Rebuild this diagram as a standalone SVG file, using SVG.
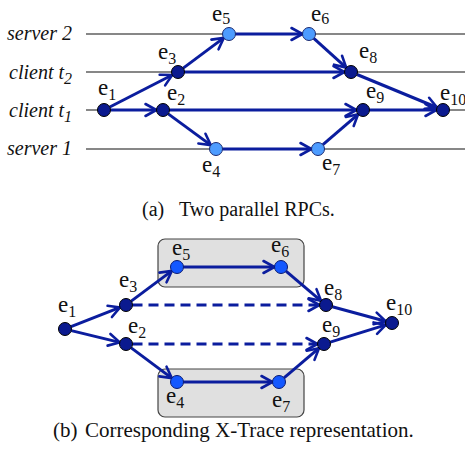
<svg xmlns="http://www.w3.org/2000/svg" width="465" height="455" viewBox="0 0 465 455">
  <style>
    .lane { stroke: #111; stroke-width: 1.1; fill: none; }
    text { font-family: 'Liberation Serif', 'Times New Roman', serif; fill: #111; }
    .lbl { font-size: 20px; font-style: italic; text-anchor: end; }
    .ev { font-size: 23px; }
    .sub { font-size: 16px; }
    .cap { font-size: 20px; }
    .capb { font-size: 21px; }
    .edge { stroke: #0b1d9e; stroke-width: 3; fill: none; marker-end: url(#arrow); }
    .dash { stroke-dasharray: 10 6; }
    .dark { fill: #0b1a8f; stroke: #000; stroke-width: 1; }
    .light { fill: #4d9cff; stroke: #1b2a70; stroke-width: 1; }
    .bright { fill: #1458ff; stroke: #0a1a70; stroke-width: 1; }
    .box { fill: #e0e0e0; stroke: #444; stroke-width: 1.2; }
  </style>
  <defs>
    <marker id="arrow" markerUnits="userSpaceOnUse" markerWidth="16" markerHeight="16" viewBox="-13 -8 16 16" refX="0" refY="0" orient="auto" overflow="visible">
      <path d="M-11,-6 L0,0 L-11,6" fill="none" stroke="#0b1d9e" stroke-width="2.6" stroke-linecap="round"/>
    </marker>
  </defs>

  <!-- (a) timeline view -->
  <g id="lanes">
    <line class="lane" x1="86" y1="34" x2="465" y2="34"/>
    <line class="lane" x1="86" y1="72" x2="465" y2="72"/>
    <line class="lane" x1="86" y1="110" x2="465" y2="110"/>
    <line class="lane" x1="86" y1="149" x2="465" y2="149"/>
    <text class="lbl" x="72" y="40">server 2</text>
    <text class="lbl" x="72" y="79">client t<tspan class="sub" dy="5">2</tspan></text>
    <text class="lbl" x="72" y="117">client t<tspan class="sub" dy="5">1</tspan></text>
    <text class="lbl" x="72" y="155">server 1</text>
  </g>

  <g id="edges-a">
    <line class="edge" x1="110.5" y1="110" x2="156.5" y2="110"/>
    <line class="edge" x1="109.8" y1="107" x2="172.2" y2="75"/>
    <line class="edge" x1="183.2" y1="68.1" x2="223.8" y2="37.9"/>
    <line class="edge" x1="168.2" y1="113.9" x2="210.8" y2="145.1"/>
    <line class="edge" x1="235.5" y1="34" x2="302.5" y2="34"/>
    <line class="edge" x1="222.5" y1="149" x2="311.5" y2="149"/>
    <line class="edge" x1="313.8" y1="38.4" x2="346.2" y2="67.6"/>
    <line class="edge" x1="184.5" y1="72" x2="344.5" y2="72"/>
    <line class="edge" x1="169.5" y1="110" x2="356.5" y2="110"/>
    <line class="edge" x1="322.9" y1="144.7" x2="358.1" y2="114.3"/>
    <line class="edge" x1="357" y1="74.5" x2="437" y2="107.5"/>
    <line class="edge" x1="369.5" y1="110" x2="436.5" y2="110"/>
  </g>

  <g id="a-e1"><circle class="dark" cx="104" cy="110" r="6.5"/><text class="ev" x="98" y="95">e<tspan class="sub" dy="5">1</tspan></text></g>
  <g id="a-e2"><circle class="dark" cx="163" cy="110" r="6.5"/><text class="ev" x="167" y="100">e<tspan class="sub" dy="5">2</tspan></text></g>
  <g id="a-e3"><circle class="dark" cx="178" cy="72" r="6.5"/><text class="ev" x="158" y="59">e<tspan class="sub" dy="5">3</tspan></text></g>
  <g id="a-e4"><circle class="light" cx="216" cy="149" r="6.5"/><text class="ev" x="202" y="172">e<tspan class="sub" dy="5">4</tspan></text></g>
  <g id="a-e5"><circle class="light" cx="229" cy="34" r="6.5"/><text class="ev" x="212" y="21">e<tspan class="sub" dy="3">5</tspan></text></g>
  <g id="a-e6"><circle class="light" cx="309" cy="34" r="6.5"/><text class="ev" x="311" y="21">e<tspan class="sub" dy="3">6</tspan></text></g>
  <g id="a-e7"><circle class="light" cx="318" cy="149" r="6.5"/><text class="ev" x="322" y="170">e<tspan class="sub" dy="5">7</tspan></text></g>
  <g id="a-e8"><circle class="dark" cx="351" cy="72" r="6.5"/><text class="ev" x="359" y="58">e<tspan class="sub" dy="5">8</tspan></text></g>
  <g id="a-e9"><circle class="dark" cx="363" cy="110" r="6.5"/><text class="ev" x="366" y="98">e<tspan class="sub" dy="5">9</tspan></text></g>
  <g id="a-e10"><circle class="dark" cx="443" cy="110" r="6.5"/><text class="ev" x="440" y="100">e<tspan class="sub" dy="5" font-size="14">10</tspan></text></g>

  <text class="cap" y="216"><tspan x="142">(a)</tspan><tspan x="179">Two parallel RPCs.</tspan></text>

  <!-- (b) X-Trace graph -->
  <g id="boxes">
    <rect class="box" x="158" y="239" width="146" height="48" rx="7"/>
    <rect class="box" x="158" y="369" width="146" height="48" rx="7"/>
  </g>

  <g id="edges-b">
    <line class="edge" x1="71" y1="326.6" x2="120" y2="307.4"/>
    <line class="edge" x1="71.3" y1="330.6" x2="119.7" y2="342.4"/>
    <line class="edge" x1="131.2" y1="301.1" x2="171.8" y2="270.9"/>
    <line class="edge" x1="131.2" y1="347.9" x2="171.8" y2="378.1"/>
    <line class="edge" x1="183.5" y1="267" x2="274.5" y2="267"/>
    <line class="edge" x1="183.5" y1="382" x2="272.5" y2="382"/>
    <line class="edge dash" x1="132.5" y1="305" x2="319.5" y2="305"/>
    <line class="edge dash" x1="132.5" y1="344" x2="317.5" y2="344"/>
    <line class="edge" x1="286" y1="271.2" x2="321" y2="300.8"/>
    <line class="edge" x1="284" y1="377.8" x2="319" y2="348.2"/>
    <line class="edge" x1="332.3" y1="306.7" x2="385.7" y2="321.3"/>
    <line class="edge" x1="330.2" y1="342.1" x2="385.8" y2="324.9"/>
  </g>

  <g id="b-e1"><circle class="dark" cx="65" cy="329" r="6.5"/><text class="ev" x="58" y="312">e<tspan class="sub" dy="5">1</tspan></text></g>
  <g id="b-e2"><circle class="dark" cx="126" cy="344" r="6.5"/><text class="ev" x="128" y="333">e<tspan class="sub" dy="5">2</tspan></text></g>
  <g id="b-e3"><circle class="dark" cx="126" cy="305" r="6.5"/><text class="ev" x="119" y="287">e<tspan class="sub" dy="5">3</tspan></text></g>
  <g id="b-e4"><circle class="bright" cx="177" cy="382" r="6.5"/><text class="ev" x="166" y="403">e<tspan class="sub" dy="5">4</tspan></text></g>
  <g id="b-e5"><circle class="bright" cx="177" cy="267" r="6.5"/><text class="ev" x="172" y="255">e<tspan class="sub" dy="5">5</tspan></text></g>
  <g id="b-e6"><circle class="bright" cx="281" cy="267" r="6.5"/><text class="ev" x="271" y="252">e<tspan class="sub" dy="5">6</tspan></text></g>
  <g id="b-e7"><circle class="bright" cx="279" cy="382" r="6.5"/><text class="ev" x="272" y="407">e<tspan class="sub" dy="5">7</tspan></text></g>
  <g id="b-e8"><circle class="dark" cx="326" cy="305" r="6.5"/><text class="ev" x="324" y="295">e<tspan class="sub" dy="5">8</tspan></text></g>
  <g id="b-e9"><circle class="dark" cx="324" cy="344" r="6.5"/><text class="ev" x="322" y="332">e<tspan class="sub" dy="5">9</tspan></text></g>
  <g id="b-e10"><circle class="dark" cx="392" cy="323" r="6.5"/><text class="ev" x="386" y="310">e<tspan class="sub" dy="5">10</tspan></text></g>

  <text class="capb" y="437"><tspan x="53">(b)</tspan><tspan x="85">Corresponding X-Trace representation.</tspan></text>
</svg>
